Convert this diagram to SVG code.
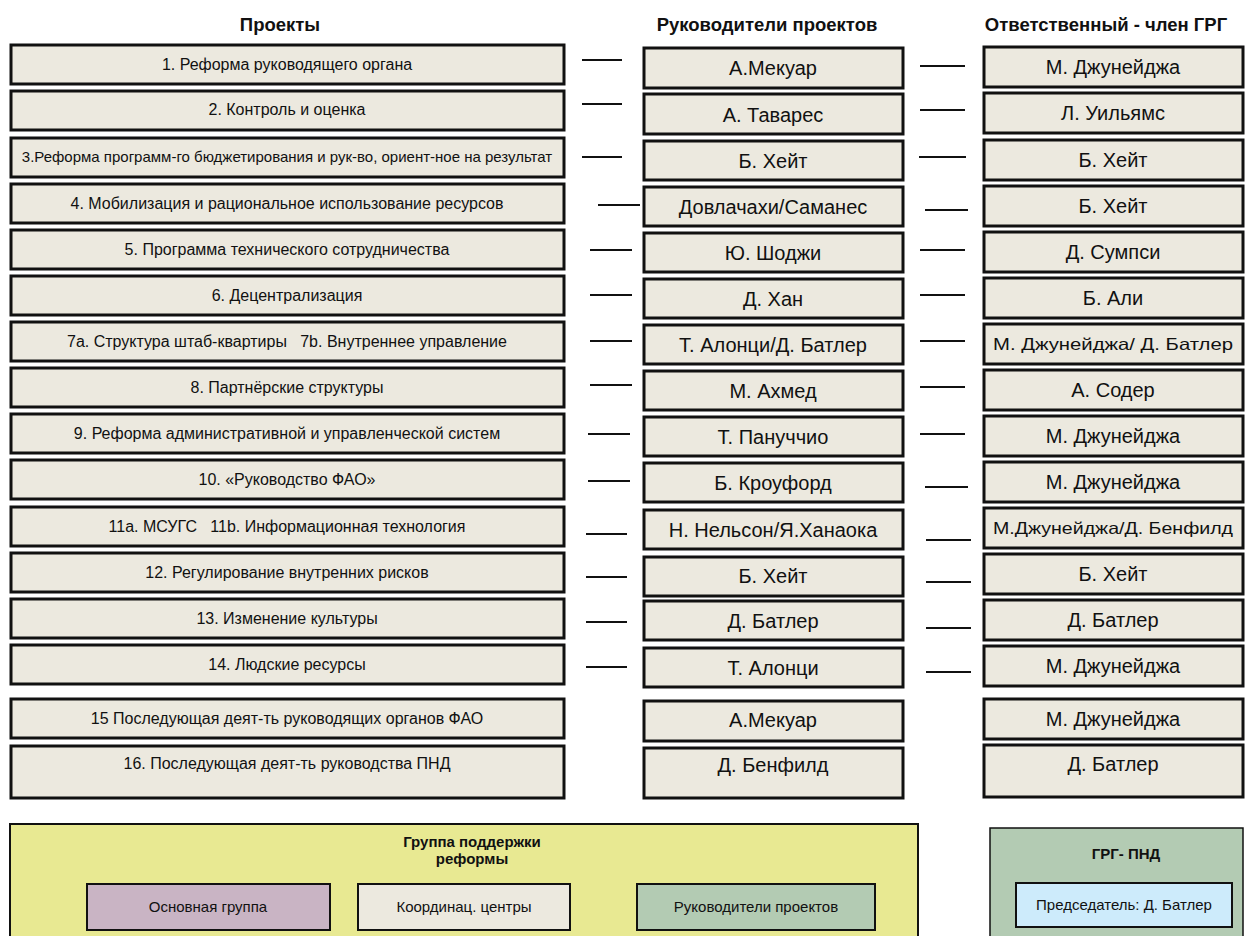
<svg xmlns="http://www.w3.org/2000/svg" width="1245" height="936" viewBox="0 0 1245 936">
<style>
text{font-family:"Liberation Sans",Arial,sans-serif;fill:#111;text-anchor:middle}
.hd{font-weight:bold;font-size:18.5px}
.pt{font-size:16px}
.nm{font-size:20px}
.sm{font-size:16.5px}
.bx{fill:#ECE9DF;stroke:#111;stroke-width:3}
.dash{stroke:#111;stroke-width:2}
.bt{font-size:15px}
.btb{font-size:15px;font-weight:bold}
</style>
<rect width="1245" height="936" fill="#fff"/>
<g id="headers">
<text class="hd" x="280" y="31">Проекты</text>
<text class="hd" x="767" y="31">Руководители проектов</text>
<text class="hd" x="1106" y="31">Ответственный - член ГРГ</text>
</g>
<g id="projects">
<g id="p1"><rect class="bx" x="11" y="45" width="553" height="39"/><text class="pt" x="287" y="69.5">1. Реформа руководящего органа</text></g>
<g id="p2"><rect class="bx" x="11" y="91" width="553" height="39"/><text class="pt" x="287" y="115">2. Контроль и оценка</text></g>
<g id="p3"><rect class="bx" x="11" y="138" width="553" height="39"/><text class="pt" x="287" y="162" style="font-size:15px">3.Реформа программ-го бюджетирования и рук-во, ориент-ное на результат</text></g>
<g id="p4"><rect class="bx" x="11" y="184" width="553" height="39"/><text class="pt" x="287" y="208.5">4. Мобилизация и рациональное использование ресурсов</text></g>
<g id="p5"><rect class="bx" x="11" y="230" width="553" height="39"/><text class="pt" x="287" y="254.5">5. Программа технического сотрудничества</text></g>
<g id="p6"><rect class="bx" x="11" y="276" width="553" height="39"/><text class="pt" x="287" y="300.5">6. Децентрализация</text></g>
<g id="p7"><rect class="bx" x="11" y="322" width="553" height="39"/><text class="pt" x="287" y="346.5" xml:space="preserve">7a. Структура штаб-квартиры   7b. Внутреннее управление</text></g>
<g id="p8"><rect class="bx" x="11" y="368" width="553" height="39"/><text class="pt" x="287" y="392.5">8. Партнёрские структуры</text></g>
<g id="p9"><rect class="bx" x="11" y="414" width="553" height="39"/><text class="pt" x="287" y="438.5">9. Реформа административной и управленческой систем</text></g>
<g id="p10"><rect class="bx" x="11" y="460" width="553" height="39"/><text class="pt" x="287" y="484.5">10. «Руководство ФАО»</text></g>
<g id="p11"><rect class="bx" x="11" y="507" width="553" height="39"/><text class="pt" x="287" y="531.5" xml:space="preserve">11a. МСУГС   11b. Информационная технология</text></g>
<g id="p12"><rect class="bx" x="11" y="553" width="553" height="39"/><text class="pt" x="287" y="577.5">12. Регулирование внутренних рисков</text></g>
<g id="p13"><rect class="bx" x="11" y="599" width="553" height="39"/><text class="pt" x="287" y="623.5">13. Изменение культуры</text></g>
<g id="p14"><rect class="bx" x="11" y="645" width="553" height="39"/><text class="pt" x="287" y="669.5">14. Людские ресурсы</text></g>
<g id="p15"><rect class="bx" x="11" y="699" width="553" height="39"/><text class="pt" x="287" y="723.5">15 Последующая деят-ть руководящих органов ФАО</text></g>
<g id="p16"><rect class="bx" x="11" y="746" width="553" height="52"/><text class="pt" x="287" y="769">16. Последующая деят-ть руководства ПНД</text></g>
</g>
<g id="leaders">
<g id="l1"><rect class="bx" x="644" y="48" width="259" height="40"/><text class="nm" x="773" y="75">А.Мекуар</text></g>
<g id="l2"><rect class="bx" x="644" y="94" width="259" height="40"/><text class="nm" x="773" y="121.5">А. Таварес</text></g>
<g id="l3"><rect class="bx" x="644" y="141" width="259" height="39"/><text class="nm" x="773" y="167.5">Б. Хейт</text></g>
<g id="l4"><rect class="bx" x="644" y="187" width="259" height="39"/><text class="nm" x="773" y="213.5">Довлачахи/Саманес</text></g>
<g id="l5"><rect class="bx" x="644" y="233" width="259" height="39"/><text class="nm" x="773" y="259.5">Ю. Шоджи</text></g>
<g id="l6"><rect class="bx" x="644" y="279" width="259" height="39"/><text class="nm" x="773" y="305.5">Д. Хан</text></g>
<g id="l7"><rect class="bx" x="644" y="325" width="259" height="39"/><text class="nm" x="773" y="351.5">Т. Алонци/Д. Батлер</text></g>
<g id="l8"><rect class="bx" x="644" y="371" width="259" height="39"/><text class="nm" x="773" y="397.5">М. Ахмед</text></g>
<g id="l9"><rect class="bx" x="644" y="417" width="259" height="39"/><text class="nm" x="773" y="443.5">Т. Пануччио</text></g>
<g id="l10"><rect class="bx" x="644" y="463" width="259" height="39"/><text class="nm" x="773" y="489.5">Б. Кроуфорд</text></g>
<g id="l11"><rect class="bx" x="644" y="510" width="259" height="39"/><text class="nm" x="773" y="536.5">Н. Нельсон/Я.Ханаока</text></g>
<g id="l12"><rect class="bx" x="644" y="557" width="259" height="39"/><text class="nm" x="773" y="582.5">Б. Хейт</text></g>
<g id="l13"><rect class="bx" x="644" y="601" width="259" height="39"/><text class="nm" x="773" y="627.5">Д. Батлер</text></g>
<g id="l14"><rect class="bx" x="644" y="648" width="259" height="39"/><text class="nm" x="773" y="674.5">Т. Алонци</text></g>
<g id="l15"><rect class="bx" x="644" y="701" width="259" height="40"/><text class="nm" x="773" y="727">А.Мекуар</text></g>
<g id="l16"><rect class="bx" x="644" y="748" width="259" height="50"/><text class="nm" x="773" y="772">Д. Бенфилд</text></g>
</g>
<g id="members">
<g id="m1"><rect class="bx" x="984" y="47" width="259" height="40"/><text class="nm" x="1113" y="74">М. Джунейджа</text></g>
<g id="m2"><rect class="bx" x="984" y="93" width="259" height="40"/><text class="nm" x="1113" y="120">Л. Уильямс</text></g>
<g id="m3"><rect class="bx" x="984" y="140" width="259" height="40"/><text class="nm" x="1113" y="167">Б. Хейт</text></g>
<g id="m4"><rect class="bx" x="984" y="186" width="259" height="40"/><text class="nm" x="1113" y="213">Б. Хейт</text></g>
<g id="m5"><rect class="bx" x="984" y="232" width="259" height="40"/><text class="nm" x="1113" y="259">Д. Сумпси</text></g>
<g id="m6"><rect class="bx" x="984" y="278" width="259" height="40"/><text class="nm" x="1113" y="305">Б. Али</text></g>
<g id="m7"><rect class="bx" x="984" y="324" width="259" height="40"/><text class="sm" x="1113" y="350" textLength="240" lengthAdjust="spacingAndGlyphs">М. Джунейджа/ Д. Батлер</text></g>
<g id="m8"><rect class="bx" x="984" y="370" width="259" height="40"/><text class="nm" x="1113" y="397">А. Содер</text></g>
<g id="m9"><rect class="bx" x="984" y="416" width="259" height="40"/><text class="nm" x="1113" y="443">М. Джунейджа</text></g>
<g id="m10"><rect class="bx" x="984" y="462" width="259" height="40"/><text class="nm" x="1113" y="489">М. Джунейджа</text></g>
<g id="m11"><rect class="bx" x="984" y="508" width="259" height="40"/><text class="sm" x="1113" y="534" textLength="240" lengthAdjust="spacingAndGlyphs">М.Джунейджа/Д. Бенфилд</text></g>
<g id="m12"><rect class="bx" x="984" y="554" width="259" height="40"/><text class="nm" x="1113" y="581">Б. Хейт</text></g>
<g id="m13"><rect class="bx" x="984" y="600" width="259" height="40"/><text class="nm" x="1113" y="627">Д. Батлер</text></g>
<g id="m14"><rect class="bx" x="984" y="646" width="259" height="40"/><text class="nm" x="1113" y="673">М. Джунейджа</text></g>
<g id="m15"><rect class="bx" x="984" y="699" width="259" height="40"/><text class="nm" x="1113" y="726">М. Джунейджа</text></g>
<g id="m16"><rect class="bx" x="984" y="745" width="259" height="52"/><text class="nm" x="1113" y="771">Д. Батлер</text></g>
</g>
<g id="connectors">
<line class="dash" x1="582" y1="60" x2="622" y2="60"/>
<line class="dash" x1="582" y1="104" x2="622" y2="104"/>
<line class="dash" x1="582" y1="157" x2="622" y2="157"/>
<line class="dash" x1="598" y1="205" x2="640" y2="205"/>
<line class="dash" x1="590" y1="250" x2="632" y2="250"/>
<line class="dash" x1="590" y1="295" x2="632" y2="295"/>
<line class="dash" x1="590" y1="341" x2="632" y2="341"/>
<line class="dash" x1="590" y1="385" x2="632" y2="385"/>
<line class="dash" x1="588" y1="434" x2="630" y2="434"/>
<line class="dash" x1="588" y1="481" x2="630" y2="481"/>
<line class="dash" x1="586" y1="534" x2="627" y2="534"/>
<line class="dash" x1="586" y1="577" x2="627" y2="577"/>
<line class="dash" x1="586" y1="622" x2="627" y2="622"/>
<line class="dash" x1="586" y1="667" x2="627" y2="667"/>
<line class="dash" x1="920" y1="66" x2="965" y2="66"/>
<line class="dash" x1="920" y1="110" x2="965" y2="110"/>
<line class="dash" x1="919" y1="157" x2="966" y2="157"/>
<line class="dash" x1="925" y1="210" x2="968" y2="210"/>
<line class="dash" x1="920" y1="250" x2="965" y2="250"/>
<line class="dash" x1="920" y1="295" x2="965" y2="295"/>
<line class="dash" x1="920" y1="341" x2="965" y2="341"/>
<line class="dash" x1="920" y1="387" x2="965" y2="387"/>
<line class="dash" x1="920" y1="434" x2="965" y2="434"/>
<line class="dash" x1="925" y1="487" x2="968" y2="487"/>
<line class="dash" x1="926" y1="540" x2="971" y2="540"/>
<line class="dash" x1="926" y1="582" x2="971" y2="582"/>
<line class="dash" x1="926" y1="628" x2="971" y2="628"/>
<line class="dash" x1="926" y1="672" x2="971" y2="672"/>
</g>
<g id="support">
<rect x="10" y="824" width="908" height="130" fill="#E8E992" stroke="#111" stroke-width="2"/>
<text class="btb" x="472" y="847">Группа поддержки</text>
<text class="btb" x="472" y="864">реформы</text>
<g id="s1"><rect x="87" y="884" width="243" height="46" fill="#C9B4C4" stroke="#111" stroke-width="2"/><text class="bt" x="208" y="912">Основная группа</text></g>
<g id="s2"><rect x="358" y="884" width="212" height="46" fill="#ECE9DF" stroke="#111" stroke-width="2"/><text class="bt" x="464" y="912">Координац. центры</text></g>
<g id="s3"><rect x="637" y="884" width="238" height="46" fill="#B3CBB3" stroke="#111" stroke-width="2"/><text class="bt" x="756" y="912">Руководители проектов</text></g>
</g>
<g id="grg">
<rect x="990" y="828" width="253" height="120" fill="#B3CBB3" stroke="#111" stroke-width="1.5"/>
<text class="btb" x="1126" y="859">ГРГ- ПНД</text>
<g id="chair"><rect x="1016" y="883" width="216" height="44" fill="#CDEBFB" stroke="#111" stroke-width="2"/><text class="bt" x="1124" y="910">Председатель: Д. Батлер</text></g>
</g>
</svg>
